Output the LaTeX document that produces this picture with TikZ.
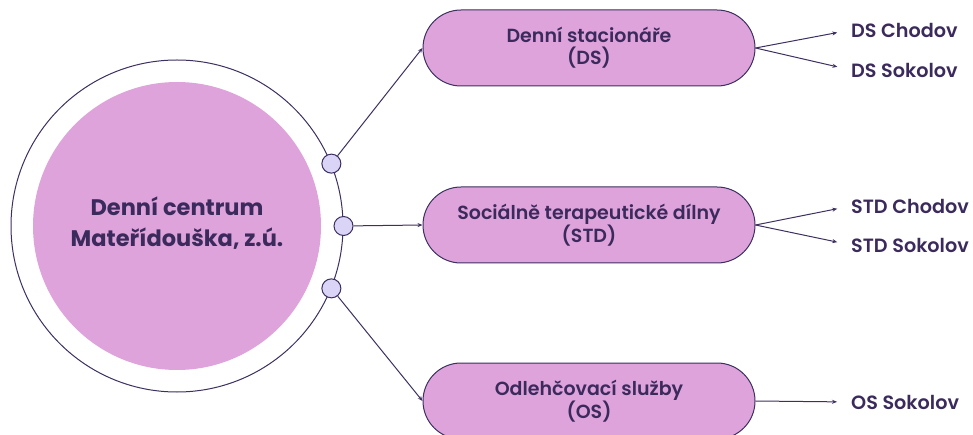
\documentclass[tikz,border=0pt]{standalone}
\usepackage{fontspec}
\setmainfont{Poppins}
\newfontfamily\popmed{Poppins Medium}
\newfontfamily\popsemi{Poppins SemiBold}
\usetikzlibrary{arrows.meta}
\definecolor{linec}{HTML}{3D3060}
\definecolor{textc}{HTML}{3B2A5C}
\definecolor{pinkf}{HTML}{DFA3DC}
\definecolor{dotf}{HTML}{DAD4F7}
\tikzset{
  conn/.style={draw=linec, line width=1pt, -{Stealth[length=5pt,width=4pt]}},
  dotc/.style={circle, draw=linec, line width=1pt, fill=dotf, minimum size=19pt, inner sep=0pt},
  svcbox/.style={rectangle, draw=linec, line width=1pt, fill=pinkf, minimum width=332pt, minimum height=76pt, rounded corners=38pt, align=center, text=textc, font=\popsemi\fontsize{19}{22}\selectfont, inner sep=0pt},
  leaf/.style={anchor=west, inner sep=0pt, text=textc, font=\popsemi\fontsize{19.2}{20}\selectfont}
}
\begin{document}
\begin{tikzpicture}[x=1pt,y=-1pt]
\useasboundingbox (0,0) rectangle (973,435);
\clip (0,0) rectangle (973,435);
\node[circle, draw=linec, line width=1pt, minimum size=332pt, inner sep=0pt] (outer) at (177,226) {};
\node[circle, fill=pinkf, minimum size=288pt, inner sep=0pt] (inner) at (177,226) {};
\node[align=center, text=textc, font=\bfseries\fontsize{22.5}{31}\selectfont] (ctext) at (177,223) {Denní centrum\\Mateřídouška, z.ú.};
\node[dotc] (d1) at (outer.22.5) {};
\node[dotc] (d2) at (outer.0) {};
\node[dotc] (d3) at (outer.-22.5) {};
\node[svcbox] (ds) at (589,48) {Denní stacionáře\\(DS)};
\node[svcbox] (std) at (589,225) {Sociálně terapeutické dílny\\(STD)};
\node[svcbox] (os) at (589,401) {Odlehčovací služby\\(OS)};
\node[leaf] (dsc) at (851,30) {DS Chodov};
\node[leaf] (dss) at (851,70) {DS Sokolov};
\node[leaf] (stdc) at (851,206) {STD Chodov};
\node[leaf] (stds) at (851,245) {STD Sokolov};
\node[leaf] (oss) at (851,402) {OS Sokolov};
\draw[conn] (d1) -- (ds.west);
\draw[conn] (d2) -- (std.west);
\draw[conn] (d3) -- (os.west);
\draw[conn, shorten >=14pt] (ds.east) -- (dsc.west);
\draw[conn, shorten >=14pt] (ds.east) -- (dss.west);
\draw[conn, shorten >=14pt] (std.east) -- (stdc.west);
\draw[conn, shorten >=14pt] (std.east) -- (stds.west);
\draw[conn, shorten >=14pt] (os.east) -- (oss.west);
\end{tikzpicture}
\end{document}
